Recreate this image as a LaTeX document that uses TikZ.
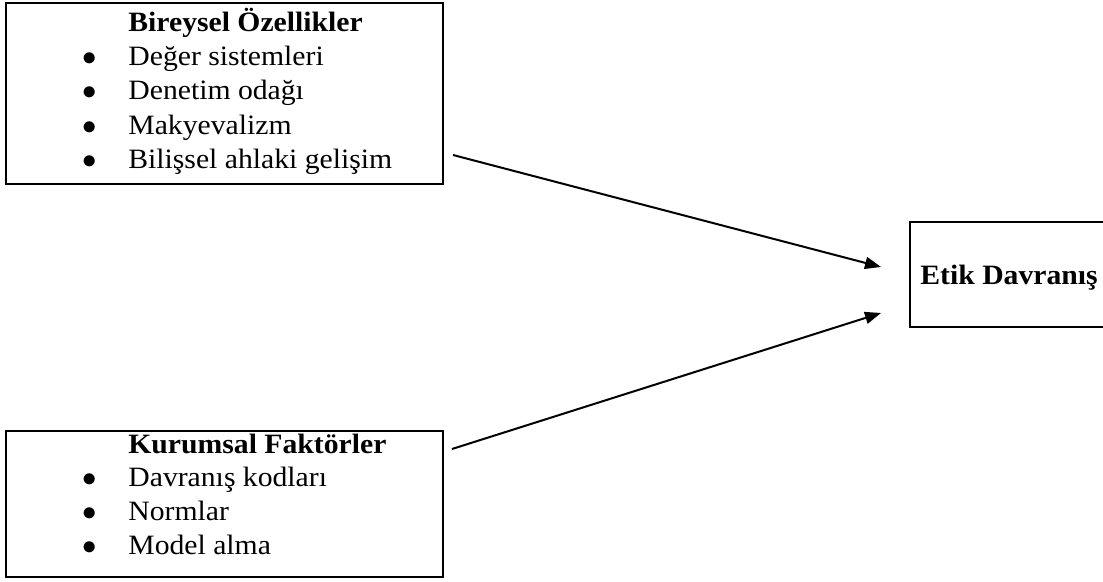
\documentclass[tikz,border=0pt]{standalone}
\usepackage{fontspec}
\setmainfont{Liberation Serif}[FakeStretch=1.06]
\usepackage{tikz}
\usetikzlibrary{arrows.meta, positioning}

\begin{document}
\begin{tikzpicture}[
  x=0.5pt, y=-0.5pt,
  box/.style={draw, line width=1pt, inner sep=0pt},
  head/.style={font=\fontsize{14}{17}\selectfont\bfseries, anchor=base west, inner sep=0pt},
  item/.style={font=\fontsize{14}{17}\selectfont, anchor=base west, inner sep=0pt},
  dot/.style={font=\fontsize{14}{17}\selectfont, anchor=base, inner sep=0pt},
  edge/.style={-{Triangle[length=8pt, width=6pt]}, line width=1pt}
]
\useasboundingbox (0,0) rectangle (1103,582);
\clip (0,0) rectangle (1103,582);

% boxes
\node[box, minimum width=218.5pt, minimum height=90.5pt] (bireysel) at (224.5,93.5) {};
\node[box, minimum width=218.5pt, minimum height=73pt] (kurumsal) at (224.5,504) {};
\node[box, minimum width=140pt, minimum height=52.5pt] (etik) at (1050,274.5) {};

% bireysel ozellikler
\node[head] (bh) at (128,32) {Bireysel Özellikler};
\node[dot] (bd1) at (90,66) {$\bullet$};
\node[item] (b1) at (128,66) {Değer sistemleri};
\node[dot] (bd2) at (90,100) {$\bullet$};
\node[item] (b2) at (128,100) {Denetim odağı};
\node[dot] (bd3) at (90,135) {$\bullet$};
\node[item] (b3) at (128,135) {Makyevalizm};
\node[dot] (bd4) at (90,169) {$\bullet$};
\node[item] (b4) at (128,169) {Bilişsel ahlaki gelişim};

% kurumsal faktorler
\node[head] (kh) at (128,453) {Kurumsal Faktörler};
\node[dot] (kd1) at (90,487) {$\bullet$};
\node[item] (k1) at (128,487) {Davranış kodları};
\node[dot] (kd2) at (90,520) {$\bullet$};
\node[item] (k2) at (128,520) {Normlar};
\node[dot] (kd3) at (90,554) {$\bullet$};
\node[item] (k3) at (128,554) {Model alma};

% etik davranis
\node[head] (eh) at (920,285) {Etik Davranış};

% arrows
\coordinate (bout) at (453,155);
\coordinate (kout) at (452,449);
\coordinate (ein1) at (881,267);
\coordinate (ein2) at (881,313);
\draw[edge] (bout) -- (ein1);
\draw[edge] (kout) -- (ein2);
\end{tikzpicture}
\end{document}
